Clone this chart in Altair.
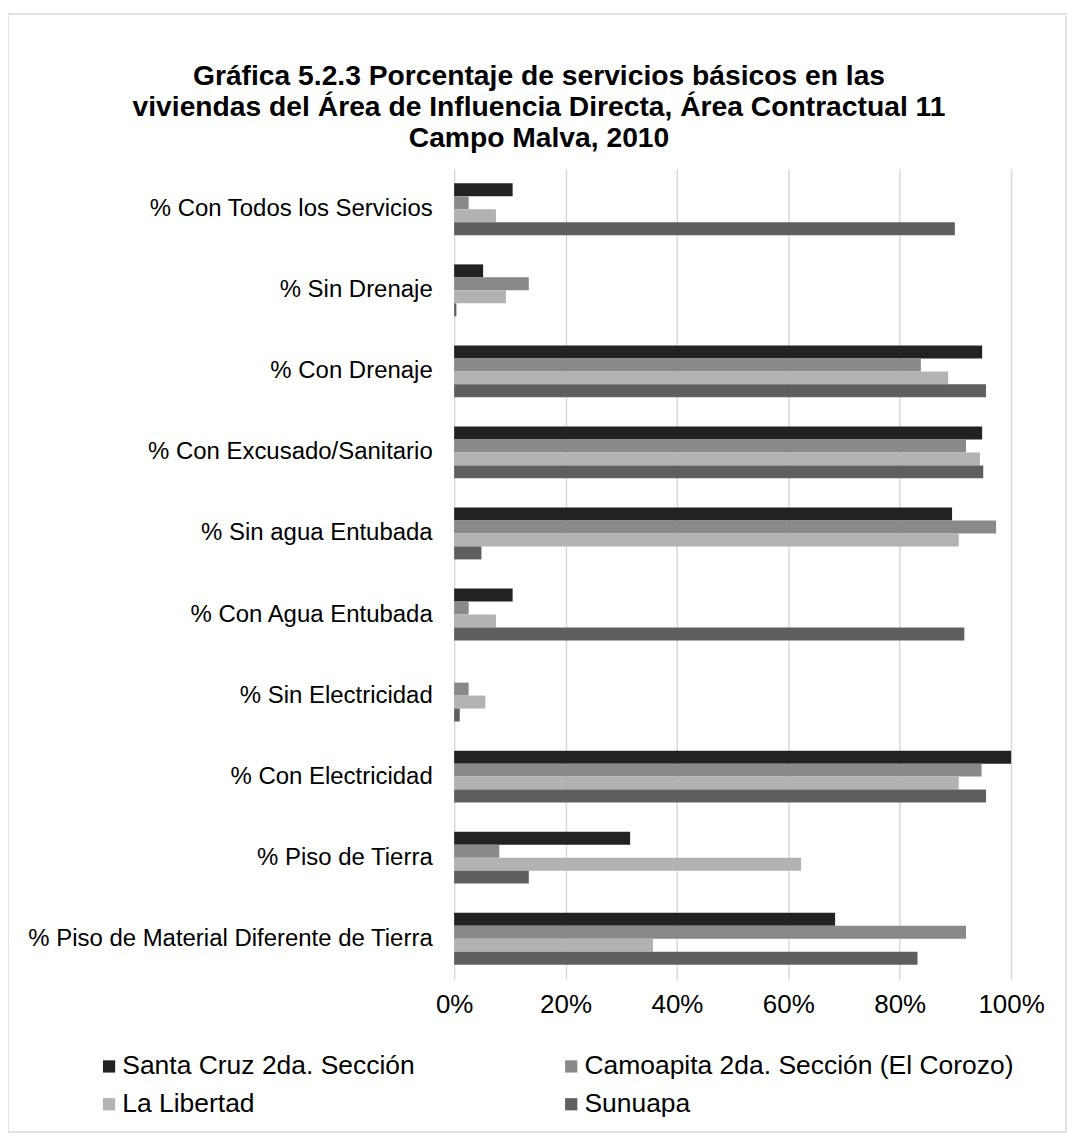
import altair as alt
import pandas as pd

categorias = [
    "% Con Todos los Servicios",
    "% Sin Drenaje",
    "% Con Drenaje",
    "% Con Excusado/Sanitario",
    "% Sin agua Entubada",
    "% Con Agua Entubada",
    "% Sin Electricidad",
    "% Con Electricidad",
    "% Piso de Tierra",
    "% Piso de Material Diferente de Tierra",
]
series = [
    "Santa Cruz 2da. Sección",
    "Camoapita 2da. Sección (El Corozo)",
    "La Libertad",
    "Sunuapa",
]
santa_cruz = [0.105, 0.052, 0.948, 0.948, 0.894, 0.105, 0.0, 1.0, 0.316, 0.684]
camoapita = [0.026, 0.134, 0.838, 0.919, 0.973, 0.026, 0.026, 0.947, 0.081, 0.919]
la_libertad = [0.075, 0.093, 0.887, 0.944, 0.906, 0.075, 0.056, 0.906, 0.623, 0.357]
sunuapa = [0.899, 0.004, 0.955, 0.950, 0.049, 0.916, 0.010, 0.955, 0.134, 0.832]
colores = {"Santa Cruz 2da. Sección": "#222222",
           "Camoapita 2da. Sección (El Corozo)": "#898989",
           "La Libertad": "#b2b2b2",
           "Sunuapa": "#5f5f5f"}
# legend is filled column by column: order so rows read as in the reference
orden_leyenda = [series[0], series[2], series[1], series[3]]
ticks = [0, 0.2, 0.4, 0.6, 0.8, 1.0]

rows = []
for s, vals in zip(series, [santa_cruz, camoapita, la_libertad, sunuapa]):
    for c, v in zip(categorias, vals):
        rows.append({"categoria": c, "serie": s, "valor": v})
df = pd.DataFrame(rows)

FONT = "Liberation Sans"

bars = alt.Chart(df).mark_bar().encode(
    x=alt.X("valor:Q",
            scale=alt.Scale(domain=[0, 1], nice=False),
            axis=alt.Axis(values=ticks, format=".0%", title=None, grid=True,
                          gridColor="#d9d9d9", gridWidth=1.5, domain=False,
                          ticks=False, labelFontSize=26, labelFont=FONT,
                          labelColor="#000000", labelPadding=12,
                          labelFlush=False)),
    y=alt.Y("categoria:N", sort=categorias,
            scale=alt.Scale(paddingInner=0.36, paddingOuter=0.18),
            axis=alt.Axis(title=None, domain=False, ticks=False,
                          labelFontSize=24, labelFont=FONT,
                          labelColor="#000000", labelPadding=22,
                          labelLimit=600)),
    yOffset=alt.YOffset("serie:N", sort=series,
                        scale=alt.Scale(paddingInner=0, paddingOuter=0)),
    color=alt.Color("serie:N",
                    scale=alt.Scale(domain=orden_leyenda,
                                    range=[colores[s] for s in orden_leyenda]),
                    legend=alt.Legend(title=None, orient="none",
                                      legendX=-359, legendY=886,
                                      columns=2, columnPadding=143,
                                      rowPadding=11, symbolType="square",
                                      symbolSize=150, symbolStrokeWidth=0,
                                      labelFontSize=26.5, labelFont=FONT,
                                      labelColor="#000000", labelOffset=0,
                                      labelLimit=600, padding=0)),
)

frame = alt.Chart(pd.DataFrame({"a": [0]})).mark_rect(
    fill=None, stroke="#d9d9d9", strokeWidth=1.5
).encode(
    x=alt.value(-447), x2=alt.value(613),
    y=alt.value(-155), y2=alt.value(965),
)

chart = alt.layer(frame, bars).properties(
    width=558,
    height=812,
    background="#ffffff",
    title=alt.TitleParams(
        text=["Gráfica 5.2.3 Porcentaje de servicios básicos en las",
              "viviendas del Área de Influencia Directa, Área Contractual 11",
              "Campo Malva, 2010"],
        font=FONT, fontSize=28.3, fontWeight="bold", color="#000000",
        anchor="middle", dx=-194, offset=-140, lineHeight=31,
    ),
    autosize=alt.AutoSizeParams(type="none"),
    padding={"left": 447, "top": 160, "right": 57, "bottom": 157},
).configure_view(stroke=None)

chart.save("out.html", embed_options={"renderer": "svg", "actions": False})
